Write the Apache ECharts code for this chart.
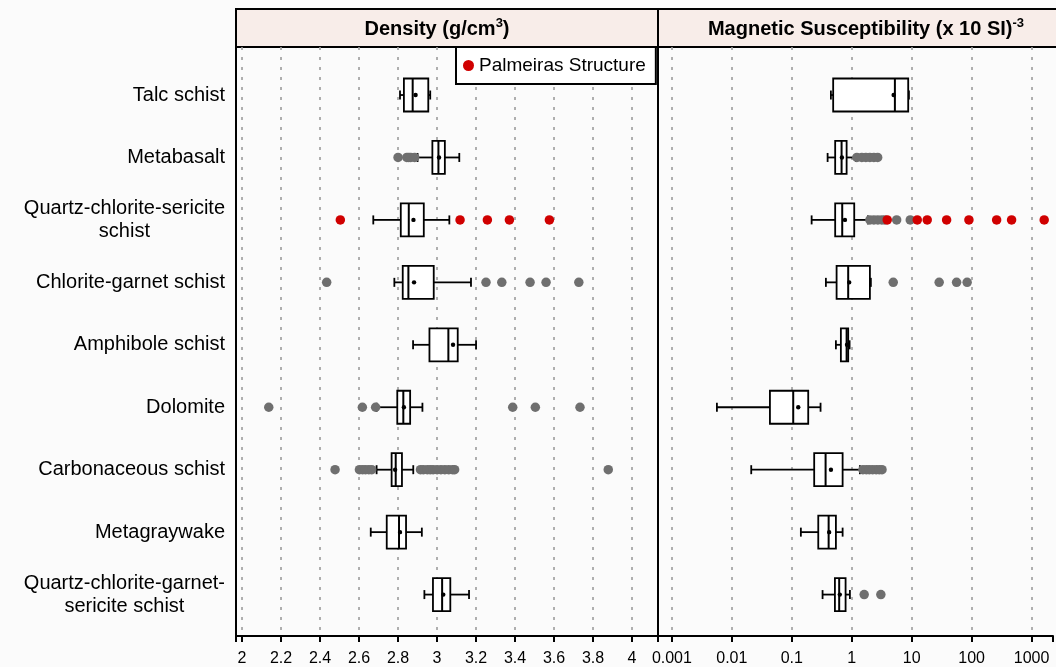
<!DOCTYPE html>
<html>
<head>
    <meta charset="UTF-8">
    <title>Density and Magnetic Susceptibility</title>
    <script src="https://cdn.jsdelivr.net/npm/echarts@6/dist/echarts.min.js"></script>
    <style>
        html, body { margin: 0; padding: 0; background: #fbfbfb; }
    </style>
</head>
<body>
    <div id="main" style="width: 1056px; height: 667px;"></div>

    <script>
        // rock types, top to bottom
        var categories = [
            'Talc schist',
            'Metabasalt',
            'Quartz-chlorite-sericite\nschist',
            'Chlorite-garnet schist',
            'Amphibole schist',
            'Dolomite',
            'Carbonaceous schist',
            'Metagraywake',
            'Quartz-chlorite-garnet-\nsericite schist'
        ];

        // density boxes: [low whisker, Q1, median, Q3, high whisker]
        var densityBoxes = [
            [2.81, 2.83, 2.875, 2.955, 2.965],
            [2.90, 2.976, 3.007, 3.04, 3.114],
            [2.673, 2.814, 2.855, 2.932, 3.063],
            [2.781, 2.824, 2.853, 2.983, 3.174],
            [2.877, 2.961, 3.058, 3.106, 3.20],
            [2.69, 2.796, 2.827, 2.862, 2.925],
            [2.69, 2.767, 2.788, 2.82, 2.878],
            [2.66, 2.742, 2.805, 2.841, 2.922],
            [2.935, 2.979, 3.026, 3.068, 3.164]
        ];
        var densityMeans = [2.89, 3.01, 2.879, 2.882, 3.082, 2.83, 2.785, 2.81, 3.032];
        var densityOutliers = [
            [],
            [2.80, 2.845, 2.855, 2.865, 2.885],
            [],
            [2.434, 3.251, 3.332, 3.477, 3.559, 3.727],
            [],
            [2.137, 2.617, 2.685, 3.388, 3.504, 3.733],
            [2.477, 2.602, 2.618, 2.633, 2.65, 2.665, 2.915, 2.93, 2.95, 2.965, 2.98, 3.0, 3.02, 3.04, 3.06, 3.08, 3.09, 3.878],
            [],
            []
        ];
        var densityPalmeiras = [[], [], [2.504, 3.118, 3.258, 3.371, 3.576], [], [], [], [], [], []];

        // magnetic susceptibility (x 10^-3 SI)
        var susBoxes = [
            [0.427, 0.466, 4.9, 8.14, 8.36],
            [0.377, 0.503, 0.642, 0.778, 1.11],
            [0.205, 0.503, 0.658, 1.04, 1.75],
            [0.353, 0.531, 0.826, 1.89, 1.96],
            [0.517, 0.625, 0.778, 0.826, 0.871],
            [0.00554, 0.0418, 0.1016, 0.18, 0.288],
            [0.0205, 0.226, 0.349, 0.668, 1.29],
            [0.136, 0.264, 0.392, 0.517, 0.668],
            [0.311, 0.498, 0.586, 0.748, 0.882]
        ];
        var susMeans = [4.67, 0.65, 0.73, 0.86, 0.79, 0.123, 0.428, 0.40, 0.60];
        var susOutliers = [
            [],
            [1.15, 1.39, 1.62, 1.89, 2.2, 2.54],
            [1.89, 2.2, 2.56, 2.98, 3.35, 5.24, 8.8],
            [4.6, 26.5, 51.5, 77],
            [],
            [],
            [1.45, 1.65, 1.85, 2.1, 2.4, 2.7, 3.0],
            [],
            [1.52, 2.87]
        ];
        var susPalmeiras = [[], [], [3.66, 11.5, 16.8, 35.2, 82.4, 237, 419, 1452], [], [], [], [], [], []];

        var FONT = 'Liberation Sans, Arial, sans-serif';
        var chart = echarts.init(document.getElementById('main'));

        function boxRows(boxes, means) {
            return boxes.map(function (b, i) { return [i].concat(b).concat([means[i]]); });
        }

        function pointRows(lists) {
            var out = [];
            lists.forEach(function (vals, i) {
                vals.forEach(function (v) { out.push([v, i]); });
            });
            return out;
        }

        function renderBox(params, api) {
            var cat = api.value(0);
            var y = api.coord([api.value(3), cat])[1];
            var xs = [1, 2, 3, 4, 5].map(function (d) { return api.coord([api.value(d), cat])[0]; });
            var xm = api.coord([api.value(6), cat])[0];
            var h = 33, cap = 9;
            var ls = { stroke: '#000', lineWidth: 1.8 };
            return {
                type: 'group',
                children: [
                    { type: 'line', shape: { x1: xs[0], y1: y, x2: xs[1], y2: y }, style: ls },
                    { type: 'line', shape: { x1: xs[3], y1: y, x2: xs[4], y2: y }, style: ls },
                    { type: 'line', shape: { x1: xs[0], y1: y - cap / 2, x2: xs[0], y2: y + cap / 2 }, style: ls },
                    { type: 'line', shape: { x1: xs[4], y1: y - cap / 2, x2: xs[4], y2: y + cap / 2 }, style: ls },
                    { type: 'rect', shape: { x: xs[1], y: y - h / 2, width: xs[3] - xs[1], height: h },
                      style: { fill: '#fff', stroke: '#000', lineWidth: 1.8 } },
                    { type: 'line', shape: { x1: xs[2], y1: y - h / 2, x2: xs[2], y2: y + h / 2 },
                      style: { stroke: '#000', lineWidth: 2 } },
                    { type: 'circle', shape: { cx: xm, cy: y, r: 2.2 }, style: { fill: '#000' } }
                ]
            };
        }

        var splitStyle = { color: '#9c9c9c', type: [3, 7], width: 1.6 };
        var tickStyle = { show: true, length: 6, lineStyle: { color: '#000', width: 2 } };
        var labelBase = { fontSize: 16, color: '#000', fontFamily: FONT, margin: 15 };

        // x ranges match the reference frame edges
        var densityMin = 1.969, densityMax = 4.133;
        var susMin = 0.0005864, susMax = 2278;

        var option = {
            backgroundColor: '#fbfbfb',
            animation: false,
            graphic: [
                { type: 'rect', shape: { x: 236, y: 9, width: 422, height: 38 },
                  style: { fill: '#f8ede9', stroke: '#000', lineWidth: 2 } },
                { type: 'rect', shape: { x: 658, y: 9, width: 410, height: 38 },
                  style: { fill: '#f8ede9', stroke: '#000', lineWidth: 2 } },
                { type: 'text', x: 437, y: 29, style: {
                    text: '{t|Density (g/cm}{s|3}{t|)}', align: 'center', verticalAlign: 'middle',
                    rich: {
                        t: { fontSize: 20, fontWeight: 'bold', fontFamily: FONT, fill: '#000', lineHeight: 24 },
                        s: { fontSize: 13, fontWeight: 'bold', fontFamily: FONT, fill: '#000', verticalAlign: 'top', lineHeight: 24 }
                    } } },
                { type: 'text', x: 866, y: 29, style: {
                    text: '{t|Magnetic Susceptibility (x 10 SI)}{s|-3}', align: 'center', verticalAlign: 'middle',
                    rich: {
                        t: { fontSize: 20, fontWeight: 'bold', fontFamily: FONT, fill: '#000', lineHeight: 24 },
                        s: { fontSize: 13, fontWeight: 'bold', fontFamily: FONT, fill: '#000', verticalAlign: 'top', lineHeight: 24 }
                    } } }
            ],
            legend: {
                data: ['Palmeiras Structure'],
                left: 456, top: 47,
                backgroundColor: '#fff', borderColor: '#000', borderWidth: 2, borderRadius: 0,
                padding: [9, 10, 9, 7],
                icon: 'circle', itemWidth: 11, itemHeight: 11,
                selectedMode: false,
                textStyle: { fontSize: 19, color: '#000', fontFamily: FONT }
            },
            grid: [
                { left: 236, top: 47, width: 422, height: 592, show: true, borderColor: '#000', borderWidth: 2, backgroundColor: 'transparent' },
                { left: 658, top: 47, width: 398, height: 592, show: false },
                { left: 236, top: 63.8, width: 422, height: 562 },
                { left: 658, top: 63.8, width: 398, height: 562 }
            ],
            xAxis: [
                { gridIndex: 0, type: 'value', min: densityMin, max: densityMax, splitNumber: 10,
                  axisLine: { show: false }, axisTick: tickStyle,
                  axisLabel: Object.assign({}, labelBase, {
                      formatter: function (v) {
                          var k = Math.round(v * 5);
                          return Math.abs(v * 5 - k) < 1e-6 ? String(+(k / 5).toFixed(1)) : '';
                      }
                  }),
                  splitLine: { show: true, showMinLine: false, showMaxLine: false, lineStyle: splitStyle } },
                { gridIndex: 1, type: 'log', logBase: 10, min: susMin, max: susMax,
                  axisLine: { show: true, lineStyle: { color: '#000', width: 2 } }, axisTick: tickStyle,
                  axisLabel: Object.assign({}, labelBase, {
                      formatter: function (v) {
                          var l = Math.log10(v), e = Math.round(l);
                          if (Math.abs(l - e) > 1e-6) return '';
                          return e < 0 ? Math.pow(10, e).toFixed(-e) : String(Math.pow(10, e));
                      }
                  }),
                  splitLine: { show: true, showMinLine: false, showMaxLine: false, lineStyle: splitStyle } },
                { gridIndex: 2, type: 'value', min: densityMin, max: densityMax, show: false },
                { gridIndex: 3, type: 'log', logBase: 10, min: susMin, max: susMax, show: false }
            ],
            yAxis: [
                { gridIndex: 0, type: 'value', min: 0, max: 1, show: false },
                { gridIndex: 1, type: 'value', min: 0, max: 1, show: false },
                { gridIndex: 2, type: 'category', data: categories, inverse: true,
                  axisLine: { show: false }, axisTick: { show: false }, splitLine: { show: false },
                  axisLabel: {
                      margin: 11, color: '#000',
                      formatter: function (v) {
                          return v.split('\n').map(function (s) { return '{c|' + s + '}'; }).join('\n');
                      },
                      rich: { c: { fontSize: 20, fontFamily: FONT, color: '#000', align: 'center', lineHeight: 23 } }
                  } },
                { gridIndex: 3, type: 'category', data: categories, inverse: true, show: false }
            ],
            series: [
                { type: 'custom', name: 'density', xAxisIndex: 2, yAxisIndex: 2,
                  renderItem: renderBox, encode: { x: [1, 2, 3, 4, 5], y: 0 },
                  data: boxRows(densityBoxes, densityMeans), z: 2 },
                { type: 'custom', name: 'susceptibility', xAxisIndex: 3, yAxisIndex: 3,
                  renderItem: renderBox, encode: { x: [1, 2, 3, 4, 5], y: 0 },
                  data: boxRows(susBoxes, susMeans), z: 2 },
                { type: 'scatter', name: 'outliers', xAxisIndex: 2, yAxisIndex: 2,
                  symbolSize: 9.5, itemStyle: { color: '#6f6f6f', opacity: 1 },
                  data: pointRows(densityOutliers), z: 3 },
                { type: 'scatter', name: 'outliers', xAxisIndex: 3, yAxisIndex: 3,
                  symbolSize: 9.5, itemStyle: { color: '#6f6f6f', opacity: 1 },
                  data: pointRows(susOutliers), z: 3 },
                { type: 'scatter', name: 'Palmeiras Structure', xAxisIndex: 2, yAxisIndex: 2,
                  symbolSize: 9.5, itemStyle: { color: '#d00000', opacity: 1 },
                  data: pointRows(densityPalmeiras), z: 4 },
                { type: 'scatter', name: 'Palmeiras Structure', xAxisIndex: 3, yAxisIndex: 3,
                  symbolSize: 9.5, itemStyle: { color: '#d00000', opacity: 1 },
                  data: pointRows(susPalmeiras), z: 4 }
            ]
        };
        chart.setOption(option);
    </script>
</body>
</html>
